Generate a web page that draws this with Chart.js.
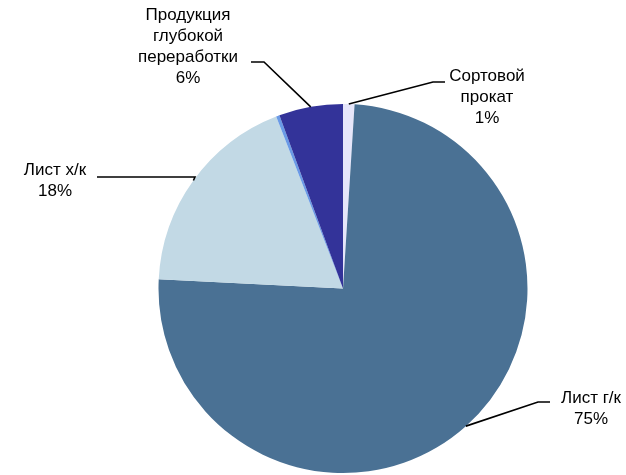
<!DOCTYPE html>
<html lang="ru">
<head>
    <meta charset="UTF-8">
    <title>Структура продаж</title>
    <style>
        html, body {
            margin: 0;
            padding: 0;
            background-color: #fff;
        }

        #chart-container {
            width: 626px;
            height: 475px;
        }
    </style>
</head>
<body>
    <div id="chart-container">
        <canvas id="pieChart"></canvas>
    </div>

    <script src="https://cdn.jsdelivr.net/npm/chart.js"></script>
    <script>
        // Data (clockwise from 12 o'clock)
        const categories = ['Сортовой прокат', 'Лист г/к', 'Лист х/к', 'Прочее', 'Продукция глубокой переработки'];
        const shares = [1, 74.8, 18.3, 0.3, 5.6];
        const labelLines = [['Сортовой', 'прокат'], ['Лист г/к'], ['Лист х/к'], [], ['Продукция', 'глубокой', 'переработки']];

        const sliceColors = ['#E6E6FA', '#4A7194', '#C2D9E5', '#6A9AE6', '#333399'];

        // where each label sits: text centre x, first line y, elbow of the leader line, end of the horizontal part
        const labelLayout = [
            { x: 487, y: 76, elbow: [433, 82], end: [445, 82] },
            { x: 591, y: 398, elbow: [538, 402], end: [550, 402] },
            { x: 55, y: 170, elbow: [195, 177], end: [97, 177] },
            null,
            { x: 188, y: 15, elbow: [264, 62], end: [251, 62] }
        ];

        const total = shares.reduce((a, b) => a + b, 0);

        const leaderLabels = {
            id: 'leaderLabels',
            afterDraw(chart) {
                const ctx = chart.ctx;
                const arcs = chart.getDatasetMeta(0).data;
                ctx.save();
                ctx.font = '17px "Liberation Sans", Arial, sans-serif';
                ctx.fillStyle = '#000';
                ctx.strokeStyle = '#000';
                ctx.lineWidth = 1.6;
                ctx.textAlign = 'center';
                ctx.textBaseline = 'middle';
                arcs.forEach((arc, i) => {
                    const lay = labelLayout[i];
                    if (!lay) return;
                    const p = arc.getProps(['x', 'y', 'startAngle', 'endAngle', 'outerRadius'], true);
                    const mid = (p.startAngle + p.endAngle) / 2;
                    const ex = p.x + Math.cos(mid) * p.outerRadius;
                    const ey = p.y + Math.sin(mid) * p.outerRadius;

                    ctx.beginPath();
                    ctx.moveTo(ex, ey);
                    ctx.lineTo(lay.elbow[0], lay.elbow[1]);
                    ctx.lineTo(lay.end[0], lay.end[1]);
                    ctx.stroke();

                    const pct = Math.round(shares[i] / total * 100) + '%';
                    const lines = labelLines[i].concat([pct]);
                    lines.forEach((t, k) => {
                        ctx.fillText(t, lay.x, lay.y + k * 21);
                    });
                });
                ctx.restore();
            }
        };

        const ctxPie = document.getElementById('pieChart').getContext('2d');
        const pieChart = new Chart(ctxPie, {
            type: 'pie',
            data: {
                labels: categories,
                datasets: [{
                    data: shares,
                    backgroundColor: sliceColors,
                    borderWidth: 0
                }]
            },
            options: {
                responsive: true,
                maintainAspectRatio: false,
                animation: false,
                layout: {
                    padding: { top: 104, bottom: 2, left: 158, right: 98 }
                },
                plugins: {
                    legend: { display: false },
                    tooltip: { enabled: false }
                }
            },
            plugins: [leaderLabels]
        });
    </script>
</body>
</html>
